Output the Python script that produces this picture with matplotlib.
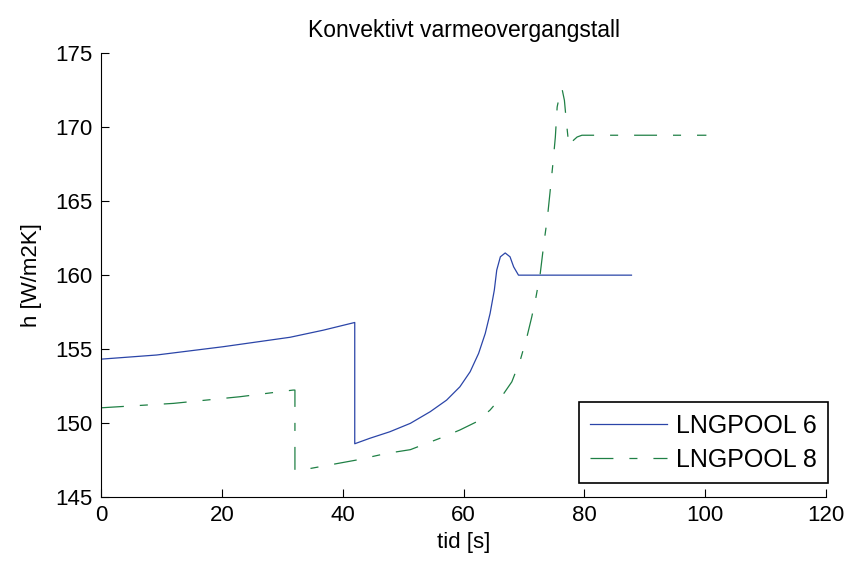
import matplotlib
matplotlib.use("Agg")
import matplotlib.pyplot as plt

plt.rcParams['font.family'] = ['Liberation Sans', 'DejaVu Sans']
plt.rcParams['lines.scale_dashes'] = False

# LNGPOOL 6
t6 = [0, 9.2, 20.2, 31.3, 36.8, 42, 42, 44.5, 47.8, 51.2, 54.5, 57.2, 59.4,
      61.1, 62.5, 63.6, 64.4, 65.1, 65.5, 66.1, 66.9, 67.7, 68.3, 69.1, 87.8]
h6 = [154.32, 154.6, 155.16, 155.8, 156.28, 156.8, 148.6, 148.97, 149.41,
      149.98, 150.77, 151.55, 152.45, 153.47, 154.71, 156.06, 157.41, 158.99,
      160.34, 161.24, 161.5, 161.24, 160.56, 160.0, 160.0]

# LNGPOOL 8
t8 = [0, 12, 23, 31.8, 32.1, 32.1, 33.2, 36.8, 42.3, 47.3, 51.2, 56.1, 59.4,
      62.2, 64.4, 66.3, 68.0, 69.4, 70.5, 71.3, 72.0, 72.7, 73.3, 73.9, 74.3,
      74.8, 75.2, 75.5, 75.9, 76.3, 76.7, 77.0, 77.4, 77.7, 78.2, 78.8, 79.6,
      100.2]
h8 = [151.03, 151.33, 151.78, 152.23, 152.23, 146.82, 146.82, 147.09, 147.5,
      147.95, 148.2, 148.97, 149.53, 150.09, 150.88, 151.78, 152.79, 154.26,
      155.83, 157.18, 158.53, 160.11, 162.14, 163.94, 165.52, 167.55, 169.34,
      171.37, 172.16, 172.61, 171.82, 170.47, 168.9, 168.72, 169.12, 169.34,
      169.46, 169.46]

xticks = [0, 20, 40, 60, 80, 100, 120]
yticks = [145, 150, 155, 160, 165, 170, 175]

fig = plt.figure(figsize=(8.5, 5.64), dpi=100)
ax = fig.add_axes([0.1188, 0.1188, 0.853, 0.7867])

ax.plot(t6, h6, color='#2b45a8', lw=0.9, label='LNGPOOL 6')
ax.plot(t8, h8, color='#1f8045', lw=0.9, dashes=(16.5, 11.5, 5.8, 11.5),
        label='LNGPOOL 8')

ax.set_xlim(0, 120)
ax.set_ylim(145, 175)
ax.set_xticks(xticks)
ax.set_yticks(yticks)
ax.tick_params(direction='in', length=5.5, width=0.8, labelsize=16, pad=6)
for side in ('top', 'right'):
    ax.spines[side].set_visible(False)
for side in ('left', 'bottom'):
    ax.spines[side].set_linewidth(0.8)

ax.set_title('Konvektivt varmeovergangstall', fontsize=16.5, pad=12)
ax.set_xlabel('tid [s]', fontsize=16, labelpad=4)
ax.set_ylabel('h [W/m2K]', fontsize=16, labelpad=10)

leg = ax.legend(loc='lower right', bbox_to_anchor=(1.003, 0.032),
                borderaxespad=0, fontsize=18, fancybox=False,
                handlelength=3.1, handletextpad=0.35, labelspacing=0.4,
                borderpad=0.45, framealpha=1)
leg.get_frame().set_edgecolor('black')
leg.get_frame().set_linewidth(1.2)

fig.savefig('out.png', dpi=100)
